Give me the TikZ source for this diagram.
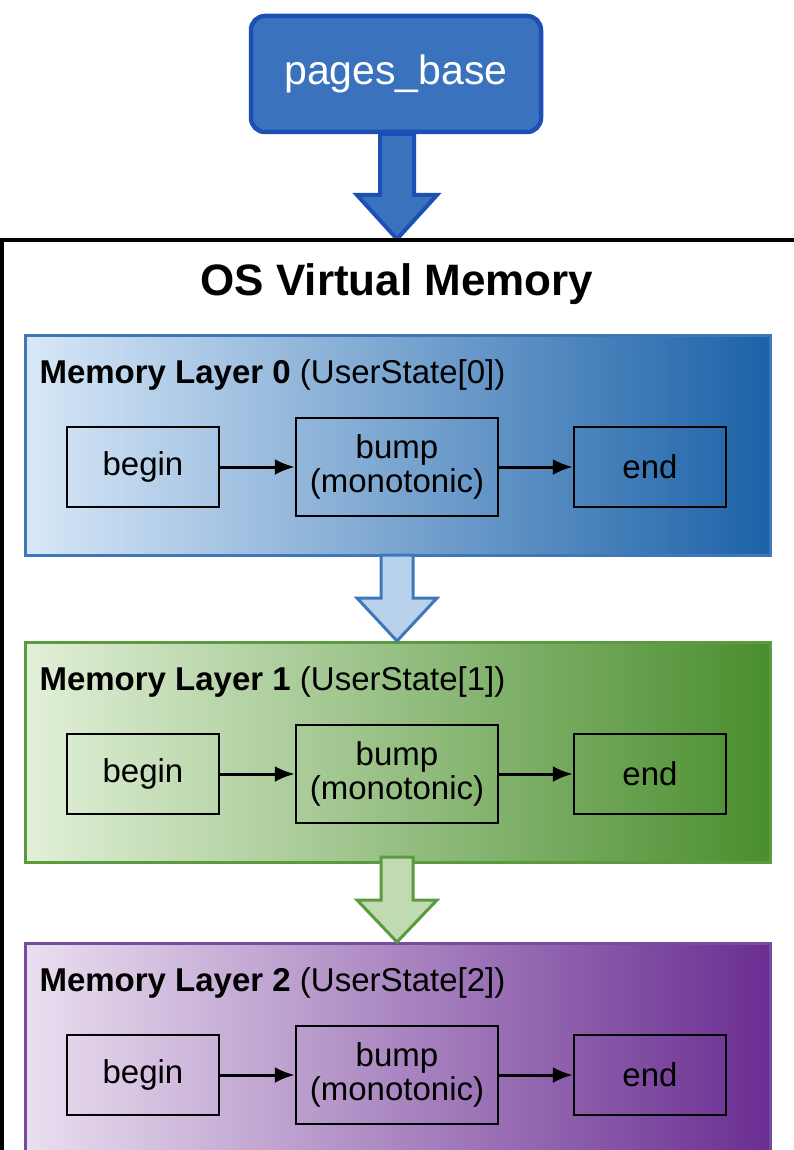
\documentclass[tikz,border=0pt]{standalone}
\usepackage{fontspec}
\setmainfont{Liberation Sans}
\usetikzlibrary{arrows.meta}
\definecolor{pbfill}{HTML}{3A72BE}
\definecolor{pbline}{HTML}{1E4FB4}
\definecolor{bL}{HTML}{D8E8F8}\definecolor{bR}{HTML}{1C62A8}\definecolor{bE}{HTML}{3F78BA}
\definecolor{gL}{HTML}{E2F0D8}\definecolor{gR}{HTML}{4A8E2E}\definecolor{gE}{HTML}{5C9A40}
\definecolor{pL}{HTML}{EADFF0}\definecolor{pR}{HTML}{6A2E92}\definecolor{pE}{HTML}{7A4A9E}
\begin{document}
\begin{tikzpicture}[x=1pt,y=-1pt,
  box/.style={draw=black,line width=2.5pt,minimum width=152pt,minimum height=80pt,font=\fontsize{33}{36}\selectfont,align=center},
  bump/.style={box,minimum width=202pt,minimum height=98pt},
  conn/.style={-{Latex[length=20pt,width=16pt]},line width=3pt},
  ltitle/.style={anchor=west,font=\fontsize{33}{36}\selectfont}]
\useasboundingbox (0,0) rectangle (793,1150);
\fill[white] (0,0) rectangle (793,1150);
% pages_base
\node[draw=pbline,line width=4.5pt,fill=pbfill,rounded corners=14pt,minimum width=290pt,minimum height=116pt,text=white,font=\fontsize{41}{44}\selectfont] (pb) at (396,74) {pages\_base};
\draw[draw=pbline,line width=4pt,fill=pbfill,line join=miter] (380,134)--(414,134)--(414,195)--(437,195)--(397,239)--(357,195)--(380,195)--cycle;
% outer
\draw[line width=4.5pt] (2,1160)--(2,240)--(800,240);
\node[font=\bfseries\fontsize{44}{48}\selectfont] (title) at (397,284) {OS Virtual Memory};
% layers
\foreach \i/\y/\L/\R/\E in {0/335/bL/bR/bE,1/642/gL/gR/gE,2/943/pL/pR/pE}{
  \shade[left color=\L,right color=\R,draw=\E,line width=3pt] (25,\y) rectangle (770,\y+220);
  \node[ltitle] (t\i) at (36,\y+40) {\textbf{Memory Layer \i} (UserState[\i])};
  \node[box] (b\i) at (143,\y+132) {begin};
  \node[bump] (m\i) at (397,\y+132) {bump\\[-2pt](monotonic)};
  \node[box] (e\i) at (650,\y+132) {end};
  \draw[conn] (b\i) -- (m\i);
  \draw[conn] (m\i) -- (e\i);
}
\draw[draw=bE,line width=3pt,fill=bL!80!bE] (381,555)--(413,555)--(413,598)--(437,598)--(397,641)--(357,598)--(381,598)--cycle;
\draw[draw=gE,line width=3pt,fill=gL!75!gE] (381,857)--(413,857)--(413,900)--(437,900)--(397,942)--(357,900)--(381,900)--cycle;
\end{tikzpicture}
\end{document}
